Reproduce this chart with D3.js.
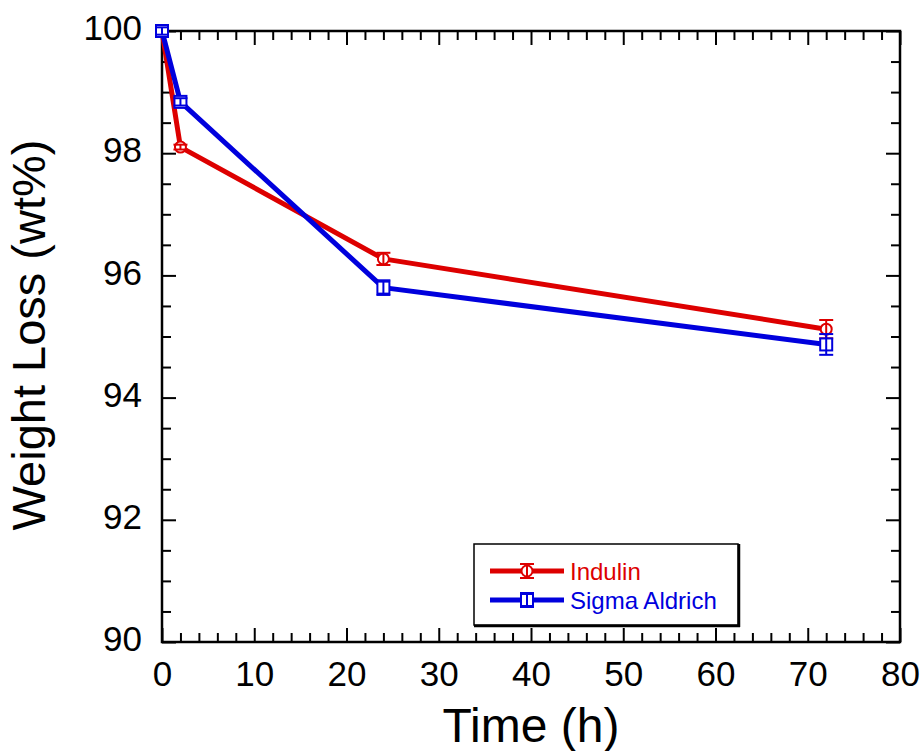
<!DOCTYPE html>
<html>
<head>
<meta charset="utf-8">
<script src="https://cdn.jsdelivr.net/npm/d3@7"></script>
<style>
  html, body { margin: 0; padding: 0; background: #fff; }
  svg { display: block; font-family: "Liberation Sans", Arial, Helvetica, sans-serif; }
</style>
</head>
<body>
<svg id="chart" width="922" height="751"></svg>
<script>
// Sampling times (h)
const times = [0, 2, 24, 72];
// Remaining mass (wt%) for each lignin source
const indulin = [100, 98.1, 96.27, 95.12];
const sigmaAldrich = [100, 98.84, 95.8, 94.87];
// Error bar half-widths (wt%)
const indulinErr = [0.05, 0.04, 0.1, 0.15];
const sigmaErr = [0.06, 0.06, 0.12, 0.17];

const seriesNames = ["Indulin", "Sigma Aldrich"];
const seriesColors = ["#dd0000", "#0000dd"];

const xMajor = [0, 10, 20, 30, 40, 50, 60, 70, 80];
const xMinor = d3.range(0, 81, 2).filter(v => v % 10 !== 0);
const yMajor = [90, 92, 94, 96, 98, 100];
const yMinor = d3.range(90, 100.01, 0.5).filter(v => Math.abs(v % 2) > 1e-6);

const svg = d3.select("#chart");
const plotLeft = 162, plotRight = 900, plotTop = 31, plotBottom = 642;

const x = d3.scaleLinear().domain([0, 80]).range([plotLeft, plotRight]);
const y = d3.scaleLinear().domain([90, 100]).range([plotBottom, plotTop]);

// Axes on all four sides, ticks pointing inward
function styleAxis(g) {
  g.selectAll(".domain").remove();
  g.selectAll(".tick line").attr("stroke", "#000").attr("stroke-width", 2);
  g.selectAll(".tick text").attr("fill", "#000");
}

svg.append("g").attr("transform", `translate(0,${plotBottom})`)
  .call(d3.axisBottom(x).tickValues(xMajor).tickSize(-14).tickPadding(19).tickFormat(d3.format("d")))
  .call(styleAxis)
  .call(g => g.selectAll(".tick text").attr("font-size", 35).attr("font-family", "Liberation Sans, Arial, sans-serif"));
svg.append("g").attr("transform", `translate(0,${plotBottom})`)
  .call(d3.axisBottom(x).tickValues(xMinor).tickSize(-9).tickFormat(""))
  .call(styleAxis);
svg.append("g").attr("transform", `translate(0,${plotTop})`)
  .call(d3.axisTop(x).tickValues(xMajor).tickSize(-14).tickFormat(""))
  .call(styleAxis);
svg.append("g").attr("transform", `translate(0,${plotTop})`)
  .call(d3.axisTop(x).tickValues(xMinor).tickSize(-9).tickFormat(""))
  .call(styleAxis);

svg.append("g").attr("transform", `translate(${plotLeft},0)`)
  .call(d3.axisLeft(y).tickValues(yMajor).tickSize(-14).tickPadding(20).tickFormat(d3.format("d")))
  .call(styleAxis)
  .call(g => g.selectAll(".tick text").attr("font-size", 35).attr("dy", "0.25em").attr("font-family", "Liberation Sans, Arial, sans-serif"));
svg.append("g").attr("transform", `translate(${plotLeft},0)`)
  .call(d3.axisLeft(y).tickValues(yMinor).tickSize(-9).tickFormat(""))
  .call(styleAxis);
svg.append("g").attr("transform", `translate(${plotRight},0)`)
  .call(d3.axisRight(y).tickValues(yMajor).tickSize(-14).tickFormat(""))
  .call(styleAxis);
svg.append("g").attr("transform", `translate(${plotRight},0)`)
  .call(d3.axisRight(y).tickValues(yMinor).tickSize(-9).tickFormat(""))
  .call(styleAxis);

// Plot frame
svg.append("rect")
  .attr("x", plotLeft).attr("y", plotTop)
  .attr("width", plotRight - plotLeft).attr("height", plotBottom - plotTop)
  .attr("fill", "none").attr("stroke", "#000").attr("stroke-width", 2.5);

// Axis titles
svg.append("text")
  .attr("x", (plotLeft + plotRight) / 2).attr("y", 742)
  .attr("text-anchor", "middle").attr("font-size", 48)
  .text("Time (h)");
svg.append("text")
  .attr("transform", "translate(45,335) rotate(-90)")
  .attr("text-anchor", "middle").attr("font-size", 47)
  .text("Weight Loss (wt%)");

// Series
const series = [
  { name: seriesNames[0], vals: indulin, err: indulinErr, color: seriesColors[0], marker: "circle" },
  { name: seriesNames[1], vals: sigmaAldrich, err: sigmaErr, color: seriesColors[1], marker: "square" }
];

const line = d3.line().x(d => x(d.t)).y(d => y(d.v));

function drawMarker(g, type, cx, cy, color) {
  if (type === "circle") {
    g.append("circle").attr("cx", cx).attr("cy", cy).attr("r", 5.5)
      .attr("fill", "#fff").attr("stroke", color).attr("stroke-width", 2);
  } else {
    g.append("rect").attr("x", cx - 6).attr("y", cy - 6).attr("width", 12).attr("height", 12)
      .attr("fill", "#fff").attr("stroke", color).attr("stroke-width", 2);
  }
}

series.forEach(s => {
  const pts = times.map((t, i) => ({ t, v: s.vals[i], e: s.err[i] }));
  const g = svg.append("g");
  g.append("path").datum(pts)
    .attr("d", line).attr("fill", "none")
    .attr("stroke", s.color).attr("stroke-width", 5).attr("stroke-linejoin", "round");
  pts.forEach(p => {
    const cx = x(p.t), cy = y(p.v);
    drawMarker(g, s.marker, cx, cy, s.color);
    const y1 = y(p.v + p.e), y2 = y(p.v - p.e);
    g.append("line").attr("x1", cx).attr("x2", cx).attr("y1", y1).attr("y2", y2)
      .attr("stroke", s.color).attr("stroke-width", 2);
    [y1, y2].forEach(yy => g.append("line")
      .attr("x1", cx - 7).attr("x2", cx + 7).attr("y1", yy).attr("y2", yy)
      .attr("stroke", s.color).attr("stroke-width", 2));
  });
});

// Legend
const lg = svg.append("g");
const lx0 = 474, ly0 = 544, lx1 = 738, ly1 = 625;
lg.append("rect").attr("x", lx0).attr("y", ly0).attr("width", lx1 - lx0).attr("height", ly1 - ly0)
  .attr("fill", "#fff").attr("stroke", "#000").attr("stroke-width", 1.5);
lg.append("line").attr("x1", lx1 + 1).attr("x2", lx1 + 1).attr("y1", ly0).attr("y2", ly1 + 2)
  .attr("stroke", "#000").attr("stroke-width", 2.5);
lg.append("line").attr("x1", lx0).attr("x2", lx1 + 2).attr("y1", ly1 + 1).attr("y2", ly1 + 1)
  .attr("stroke", "#000").attr("stroke-width", 2.5);

series.forEach((s, i) => {
  const yy = 571 + i * 29;
  lg.append("line").attr("x1", 490).attr("x2", 564).attr("y1", yy).attr("y2", yy)
    .attr("stroke", s.color).attr("stroke-width", 5);
  drawMarker(lg, s.marker, 527, yy, s.color);
  lg.append("line").attr("x1", 527).attr("x2", 527).attr("y1", yy - 7).attr("y2", yy + 7)
    .attr("stroke", s.color).attr("stroke-width", 2);
  [yy - 7, yy + 7].forEach(v => lg.append("line")
    .attr("x1", 520).attr("x2", 534).attr("y1", v).attr("y2", v)
    .attr("stroke", s.color).attr("stroke-width", 2));
  lg.append("text").attr("x", 570).attr("y", yy + 8.5)
    .attr("font-size", 24).attr("fill", s.color).text(s.name);
});
</script>
</body>
</html>
